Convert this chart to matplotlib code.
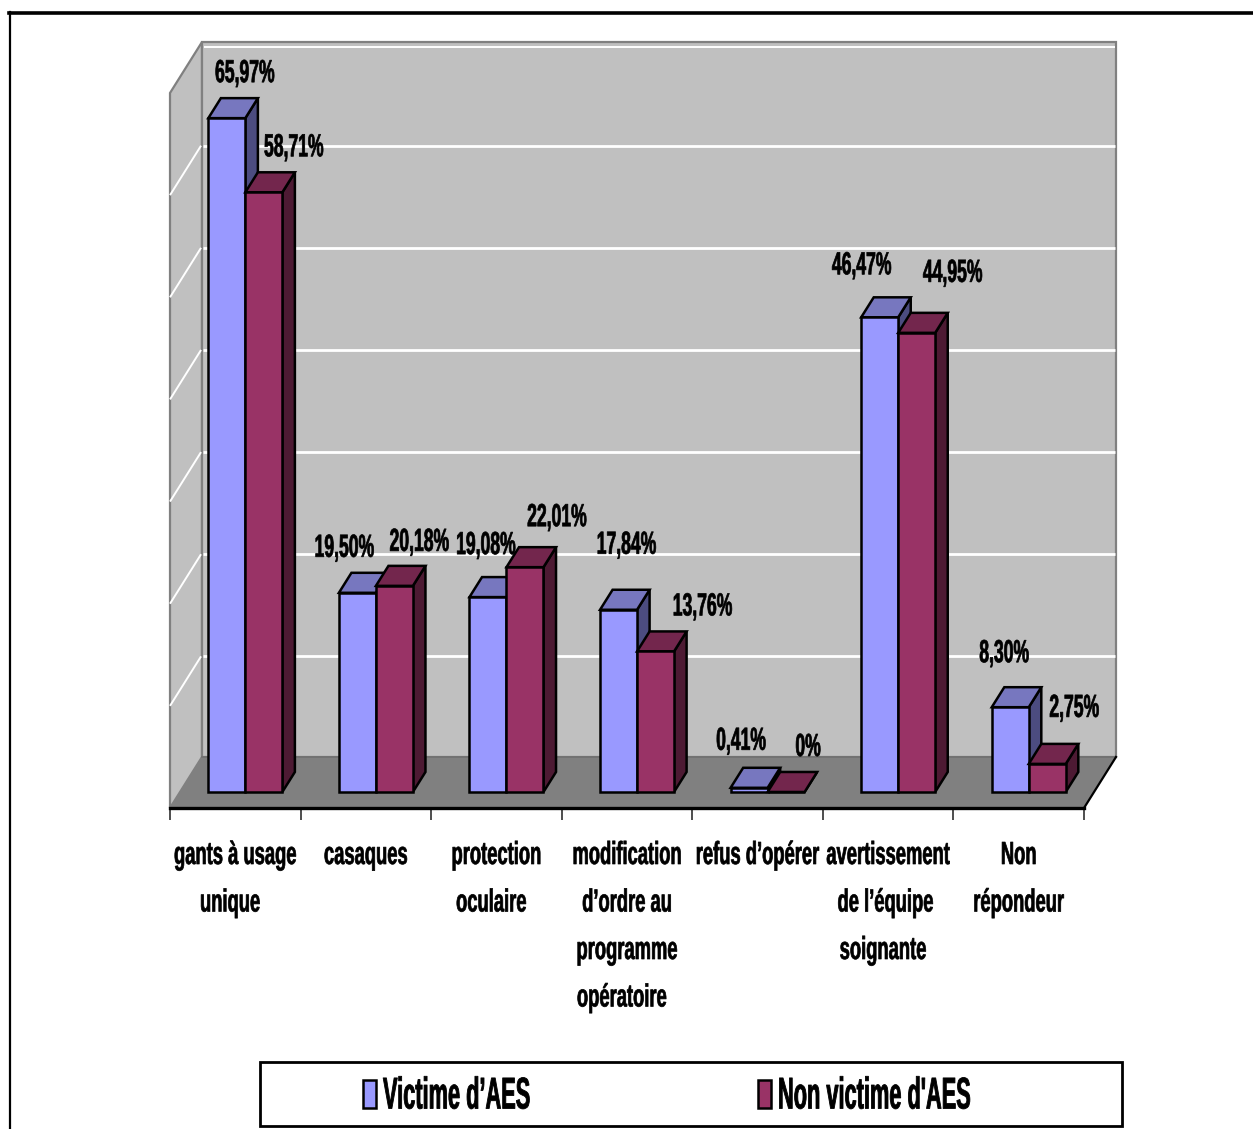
import matplotlib
matplotlib.use("Agg")
from matplotlib import pyplot as plt
from matplotlib.lines import Line2D
from matplotlib.patches import Polygon, Rectangle
from matplotlib.patheffects import AbstractPathEffect
from matplotlib.text import Text
from matplotlib.transforms import Affine2D, Bbox, ScaledTranslation

categories = [
    ["gants à usage", "unique  "],
    ["casaques"],
    ["protection", "oculaire  "],
    ["modification", "d’ordre au", "programme", "opératoire  "],
    ["refus d’opérer"],
    ["avertissement", "de l’équipe ", "soignante  "],
    ["Non", "répondeur"],
]
victime = [65.97, 19.50, 19.08, 17.84, 0.41, 46.47, 8.30]
non_victime = [58.71, 20.18, 22.01, 13.76, 0, 44.95, 2.75]
victime_labels = ["65,97%", "19,50%", "19,08%", "17,84%", "0,41%", "46,47%", "8,30%"]
non_victime_labels = ["58,71%", "20,18%", "22,01%", "13,76%", "0%", "44,95%", "2,75%"]
series_names = ["Victime d’AES", "Non victime d'AES"]

# label offsets from the top of each bar, in pixels
victime_offsets = [(18, 44), (-13, 44), (-2, 51), (8, 64), (-8, 46), (-18, 51), (-6, 53)]
non_victime_offsets = [(30, 44), (25, 43), (32, 49), (47, 44), (22, 44), (36, 59), (27, 55)]

WIDTH, HEIGHT = 1253, 1129
DPI = 100
FONT = "Liberation Sans"

# depth of the 3d box, in data units
DEPTH_X = 32 / 130.57
DEPTH_Y = 51 / 10.21
BAR_FRONT = 0.314
BAR_BACK = 0.706
BAR_WIDTH = 0.2834
GRID_DEPTH = 0.97

BLUE = ("#9999FF", "#7777BF", "#4C4C80")
RED = ("#993366", "#73264D", "#4D1A33")


class Squeeze(AbstractPathEffect):
    # narrows the glyphs horizontally around a fixed pixel position and thickens them a bit
    def __init__(self, center, factor, stroke):
        super().__init__()
        self.center = center
        self.factor = factor
        self.stroke = stroke

    def draw_path(self, renderer, gc, tpath, affine, rgbFace=None):
        squeeze = Affine2D().translate(-self.center, 0).scale(self.factor, 1).translate(self.center, 0)
        gc0 = renderer.new_gc()
        gc0.copy_properties(gc)
        gc0.set_linewidth(self.stroke)
        gc0.set_foreground("black")
        renderer.draw_path(gc0, tpath, affine + squeeze, rgbFace)
        gc0.restore()


class NarrowText(Text):
    def __init__(self, x, y, text, center, factor, stroke=0.5, **kwargs):
        super().__init__(x, y, text, **kwargs)
        self.center = center
        self.factor = factor
        self.set_path_effects([Squeeze(center, factor, stroke)])

    def get_window_extent(self, renderer=None, dpi=None):
        box = super().get_window_extent(renderer, dpi)
        x0 = self.center + (box.x0 - self.center) * self.factor
        x1 = self.center + (box.x1 - self.center) * self.factor
        return Bbox([[x0, box.y0], [x1, box.y1]])


def px(value):
    return value / DPI


def project(x, value, depth):
    return x + depth * DEPTH_X, value + depth * DEPTH_Y


def addFace(axis, corners, color, edge="black", lw=1.8, zorder=3):
    points = [project(*corner) for corner in corners]
    axis.add_patch(Polygon(points, closed=True, facecolor=color, edgecolor=edge, linewidth=lw,
                           joinstyle="miter", clip_on=False, zorder=zorder))


def drawBar(axis, left, value, colors):
    right = left + BAR_WIDTH
    front, top, side = colors
    addFace(axis, [(right, 0, BAR_FRONT), (right, 0, BAR_BACK), (right, value, BAR_BACK), (right, value, BAR_FRONT)], side)
    addFace(axis, [(left, value, BAR_FRONT), (right, value, BAR_FRONT), (right, value, BAR_BACK), (left, value, BAR_BACK)], top)
    addFace(axis, [(left, 0, BAR_FRONT), (right, 0, BAR_FRONT), (right, value, BAR_FRONT), (left, value, BAR_FRONT)], front)


def addText(figure, transform, x, y, text, size, factor, ha="center", stroke=0.5):
    center = transform.transform((x, y))[0]
    label = NarrowText(x, y, text, center, factor, stroke=stroke, transform=transform, fontsize=size,
                       family=FONT, weight="bold", ha=ha, va="center", color="black", clip_on=False)
    figure.add_artist(label)
    return label


figure = plt.figure(figsize=(WIDTH / DPI, HEIGHT / DPI), dpi=DPI)
axis = figure.add_axes([170 / WIDTH, 1 - 808 / HEIGHT, 914 / WIDTH, 715 / HEIGHT])
axis.set_xlim(0, 7)
axis.set_ylim(0, 70)
axis.patch.set_visible(False)
for name in ["left", "right", "top"]:
    axis.spines[name].set_visible(False)
axis.spines["bottom"].set_linewidth(2.4)
axis.spines["bottom"].set_zorder(5)
axis.set_yticks([])
axis.set_xticks(range(8))
axis.set_xticklabels([])
axis.tick_params(axis="x", length=px(12) * 72, width=1.2, color="#303030", direction="out")

# walls, gridlines and floor sit under the bars
addFace(axis, [(0, 0, 0), (0, 70, 0), (0, 70, 1), (0, 0, 1)], "#C0C0C0", "#808080", 1.6, zorder=1)
addFace(axis, [(0, 0, 1), (7, 0, 1), (7, 70, 1), (0, 70, 1)], "#C0C0C0", "#808080", 1.6, zorder=1)
for level in range(10, 70, 10):
    axis.plot(*zip(project(0, level, 0), project(0, level, GRID_DEPTH)), color="white", lw=1.4,
              solid_capstyle="butt", clip_on=False, zorder=1.5)
    axis.plot(*zip(project(0.015, level, GRID_DEPTH), project(7, level, GRID_DEPTH)), color="white", lw=2,
              solid_capstyle="butt", clip_on=False, zorder=1.5)
axis.plot(*zip(project(0.015, 69.55, 1), project(6.99, 69.55, 1)), color="white", lw=1.4,
          solid_capstyle="butt", clip_on=False, zorder=1.5)
addFace(axis, [(0, 0, 0), (7, 0, 0), (7, 0, 1), (0, 0, 1)], "#808080", "none", 0, zorder=2)
axis.plot(*zip(project(0, 0, 1), project(7, 0, 1)), color="#707070", lw=1.2, clip_on=False, zorder=2.1)
axis.plot(*zip(project(7, 0, 0), project(7, 0, 1)), color="black", lw=1.6, clip_on=False, zorder=2.1)

gap = (1 - 2 * BAR_WIDTH) / 2
for i in range(len(victime)):
    drawBar(axis, i + gap, victime[i], BLUE)
    drawBar(axis, i + gap + BAR_WIDTH, non_victime[i], RED)

# value labels
for i in range(len(victime)):
    bars = [(i + gap, victime[i], victime_labels[i], victime_offsets[i]),
            (i + gap + BAR_WIDTH, non_victime[i], non_victime_labels[i], non_victime_offsets[i])]
    for left, value, text, offset in bars:
        anchor = project(left + BAR_WIDTH / 2, value, BAR_FRONT)
        transform = axis.transData + ScaledTranslation(px(offset[0]), px(offset[1]), figure.dpi_scale_trans)
        addText(figure, transform, anchor[0], anchor[1], text, 23, 0.55)

# category labels, one text per line
for i, lines in enumerate(categories):
    for j, line in enumerate(lines):
        transform = axis.get_xaxis_transform() + ScaledTranslation(0, px(-47.5 * j - 48), figure.dpi_scale_trans)
        addText(figure, transform, i + 0.5, 0, line, 23, 0.575)

# outer frame
figure.add_artist(Line2D([9.5 / WIDTH, 9.5 / WIDTH], [0, 1 - 12 / HEIGHT], color="black", lw=1.6))
figure.add_artist(Line2D([8.5 / WIDTH, 1], [1 - 12.5 / HEIGHT, 1 - 12.5 / HEIGHT], color="black", lw=2.6))

# legend box
figure.add_artist(Rectangle((260 / WIDTH, 1 - 1126 / HEIGHT), 862 / WIDTH, 64 / HEIGHT, facecolor="white",
                            edgecolor="black", linewidth=2, transform=figure.transFigure))
for left, color, name in [(363, BLUE[0], series_names[0]), (758, RED[0], series_names[1])]:
    figure.add_artist(Rectangle((left / WIDTH, 1 - 1108 / HEIGHT), 13 / WIDTH, 28 / HEIGHT, facecolor=color,
                                edgecolor="black", linewidth=1.8, transform=figure.transFigure))
    addText(figure, figure.transFigure, (left + 20) / WIDTH, 1 - 1097 / HEIGHT, name, 32, 0.49, ha="left", stroke=0.6)

figure.savefig("out.png", dpi=DPI, facecolor="white")
